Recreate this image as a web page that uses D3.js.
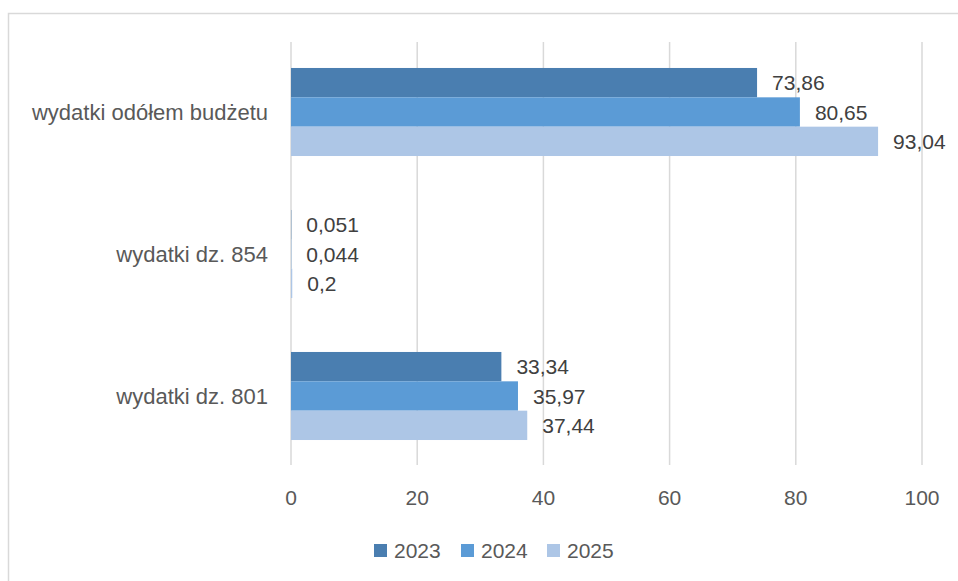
<!DOCTYPE html>
<html>
<head>
<meta charset="utf-8">
<script src="https://cdn.jsdelivr.net/npm/d3@7"></script>
<style>
  html, body { margin: 0; padding: 0; background: #fff; }
  svg { display: block; }
  text { font-family: "Liberation Sans", Arial, sans-serif; }
</style>
</head>
<body>
<svg id="chart" width="958" height="581"></svg>
<script>
const categories = ["wydatki odółem budżetu", "wydatki dz. 854", "wydatki dz. 801"];
const seriesNames = ["2023", "2024", "2025"];
const values2023 = [73.86, 0.051, 33.34];
const values2024 = [80.65, 0.044, 35.97];
const values2025 = [93.04, 0.2, 37.44];
const valueLabels2023 = ["73,86", "0,051", "33,34"];
const valueLabels2024 = ["80,65", "0,044", "35,97"];
const valueLabels2025 = ["93,04", "0,2", "37,44"];
const xTicks = [0, 20, 40, 60, 80, 100];
const colors = ["#4a7eb0", "#5b9bd6", "#adc6e6"];

const seriesValues = [values2023, values2024, values2025];
const seriesLabels = [valueLabels2023, valueLabels2024, valueLabels2025];

const svg = d3.select("#chart");

// chart border
svg.append("rect")
  .attr("x", 8.5).attr("y", 13.5)
  .attr("width", 1000).attr("height", 1000)
  .attr("fill", "none").attr("stroke", "#d9d9d9").attr("stroke-width", 1.5);

const x = d3.scaleLinear().domain([0, 100]).range([291, 922]);
const y = d3.scaleBand().domain(categories).range([41, 467]).paddingInner(0.38).paddingOuter(0.19);
const yInner = d3.scaleBand().domain(seriesNames).range([0, y.bandwidth()]);

// gridlines
svg.append("g").selectAll("line").data(xTicks).join("line")
  .attr("x1", d => x(d)).attr("x2", d => x(d))
  .attr("y1", 42).attr("y2", 465)
  .attr("stroke", "#d9d9d9").attr("stroke-width", 1.5);

// x tick labels
svg.append("g").selectAll("text").data(xTicks).join("text")
  .attr("x", d => x(d)).attr("y", 505)
  .attr("text-anchor", "middle")
  .attr("font-size", 21).attr("fill", "#595959")
  .text(d => d);

// category labels
svg.append("g").selectAll("text").data(categories).join("text")
  .attr("x", 268).attr("y", d => y(d) + y.bandwidth() / 2)
  .attr("dy", "0.35em")
  .attr("text-anchor", "end")
  .attr("font-size", 22).attr("fill", "#595959")
  .text(d => d);

// bars
const rows = [];
seriesNames.forEach((s, si) => {
  categories.forEach((c, ci) => {
    rows.push({ s, si, c, v: seriesValues[si][ci], label: seriesLabels[si][ci] });
  });
});

svg.append("g").selectAll("rect").data(rows).join("rect")
  .attr("x", x(0))
  .attr("y", d => y(d.c) + yInner(d.s))
  .attr("width", d => x(d.v) - x(0))
  .attr("height", yInner.bandwidth())
  .attr("fill", d => colors[d.si]);

svg.append("g").selectAll("text").data(rows).join("text")
  .attr("x", d => x(d.v) + 15)
  .attr("y", d => y(d.c) + yInner(d.s) + yInner.bandwidth() / 2)
  .attr("dy", "0.36em")
  .attr("font-size", 21).attr("fill", "#404040")
  .text(d => d.label);

// legend
const legendX = [374, 461, 547];
const lg = svg.append("g").selectAll("g").data(seriesNames).join("g")
  .attr("transform", (d, i) => `translate(${legendX[i]},0)`);
lg.append("rect").attr("x", 0).attr("y", 544).attr("width", 13).attr("height", 13)
  .attr("fill", (d, i) => colors[i]);
lg.append("text").attr("x", 20).attr("y", 550.5).attr("dy", "0.36em")
  .attr("font-size", 21).attr("fill", "#595959")
  .text(d => d);
</script>
</body>
</html>
